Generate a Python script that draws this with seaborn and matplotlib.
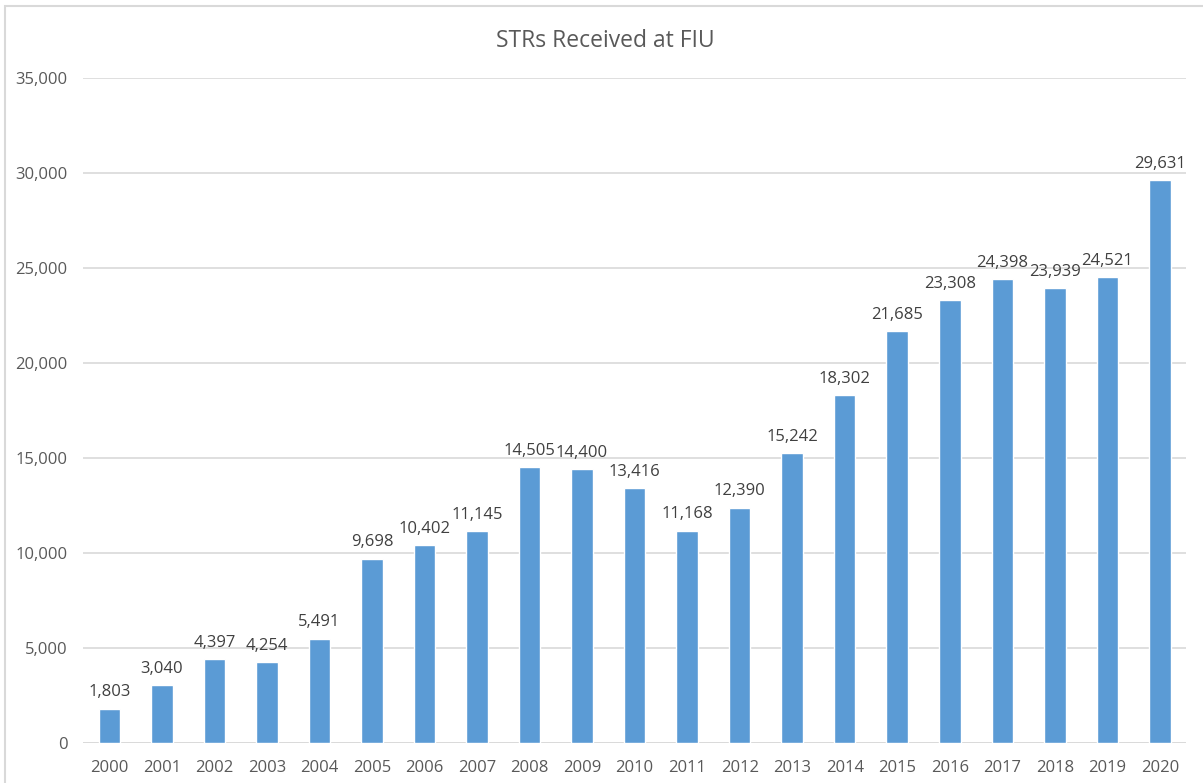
import matplotlib
matplotlib.use("Agg")
import matplotlib.pyplot as plt
import seaborn as sns
import pandas as pd
from matplotlib.patches import Rectangle

years = ["2000", "2001", "2002", "2003", "2004", "2005", "2006", "2007", "2008", "2009",
         "2010", "2011", "2012", "2013", "2014", "2015", "2016", "2017", "2018", "2019", "2020"]
strs = [1803, 3040, 4397, 4254, 5491, 9698, 10402, 11145, 14505, 14400,
        13416, 11168, 12390, 15242, 18302, 21685, 23308, 24398, 23939, 24521, 29631]
title = "STRs Received at FIU"

sns.set_theme(style="white")
plt.rcParams['font.family'] = ['Open Sans', 'DejaVu Sans']

df = pd.DataFrame({"year": years, "count": strs})

fig = plt.figure(figsize=(12.03, 7.83), dpi=100)
ax = fig.add_axes([0.069, 0.0511, 0.917, 0.8493])

sns.barplot(data=df, x="year", y="count", color="#5B9BD5", saturation=1,
            width=0.41, ax=ax, zorder=3)

ax.set_ylim(0, 35000)
ax.set_xlim(-0.5, len(years) - 0.5)
ax.set_yticks(range(0, 35001, 5000))
ax.set_yticklabels([f"{v:,}" for v in range(0, 35001, 5000)])
ax.yaxis.grid(True, color="#D9D9D9", linewidth=1.2, zorder=0)
ax.xaxis.grid(False)
for s in ax.spines.values():
    s.set_visible(False)
ax.axhline(0, color="#D9D9D9", linewidth=1.2, zorder=2)
ax.set_xlabel("")
ax.set_ylabel("")
ax.tick_params(axis="y", length=0, pad=11, labelsize=12, labelcolor="#595959")
ax.tick_params(axis="x", length=0, pad=12, labelsize=12, labelcolor="#595959")

for i, v in enumerate(strs):
    ax.annotate(f"{v:,}", (i, v), xytext=(0, 6), textcoords="offset points",
                ha="center", va="bottom", fontsize=12, color="#404040")

fig.text(0.503, 0.947, title, ha="center", va="center", fontsize=16.5, color="#595959")

fig.patches.append(Rectangle((5 / 1203, -0.1), 1.2, (783 - 6) / 783 + 0.1,
                             transform=fig.transFigure, fill=False,
                             edgecolor="#D9D9D9", linewidth=1.5))

fig.savefig("out.png", dpi=100)
